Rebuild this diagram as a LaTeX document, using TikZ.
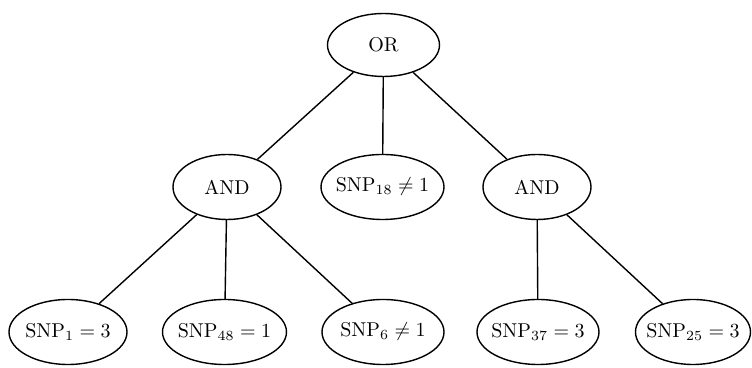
\documentclass[tikz,border=0pt]{standalone}
\usetikzlibrary{shapes.geometric}
\tikzset{
  el/.style={draw, ellipse, inner sep=0pt, line width=0.7pt, minimum height=32.5pt},
  edge/.style={line width=0.7pt}
}
\newcommand{\ztext}[1]{\makebox[0pt]{#1}}
\begin{document}
\begin{tikzpicture}[x=1pt,y=1pt]
\useasboundingbox (0,0) rectangle (376,184);
\node[el, minimum width=56pt, minimum height=31.5pt] (or) at (191.75,161.5) {\ztext{OR}};
\node[el, minimum width=54pt] (andl) at (113.5,90.5) {\ztext{AND}};
\node[el, minimum width=61.5pt] (s18) at (191.25,90.5) {\ztext{$\mathrm{SNP}_{18}\neq 1$}};
\node[el, minimum width=54pt] (andr) at (268.5,90.5) {\ztext{AND}};
\node[el, minimum width=59pt] (s1) at (34,18) {\ztext{$\mathrm{SNP}_{1}=3$}};
\node[el, minimum width=62pt] (s48) at (112.25,18) {\ztext{$\mathrm{SNP}_{48}=1$}};
\node[el, minimum width=61pt] (s6) at (191.5,18) {\ztext{$\mathrm{SNP}_{6}\neq 1$}};
\node[el, minimum width=61pt] (s37) at (269,18) {\ztext{$\mathrm{SNP}_{37}=3$}};
\node[el, minimum width=57.5pt] (s25) at (346.5,18) {\ztext{$\mathrm{SNP}_{25}=3$}};
\draw[edge] (or) -- (andl);
\draw[edge] (or) -- (s18);
\draw[edge] (or) -- (andr);
\draw[edge] (andl) -- (s1);
\draw[edge] (andl) -- (s48);
\draw[edge] (andl) -- (s6);
\draw[edge] (andr) -- (s37);
\draw[edge] (andr) -- (s25);
\end{tikzpicture}
\end{document}
